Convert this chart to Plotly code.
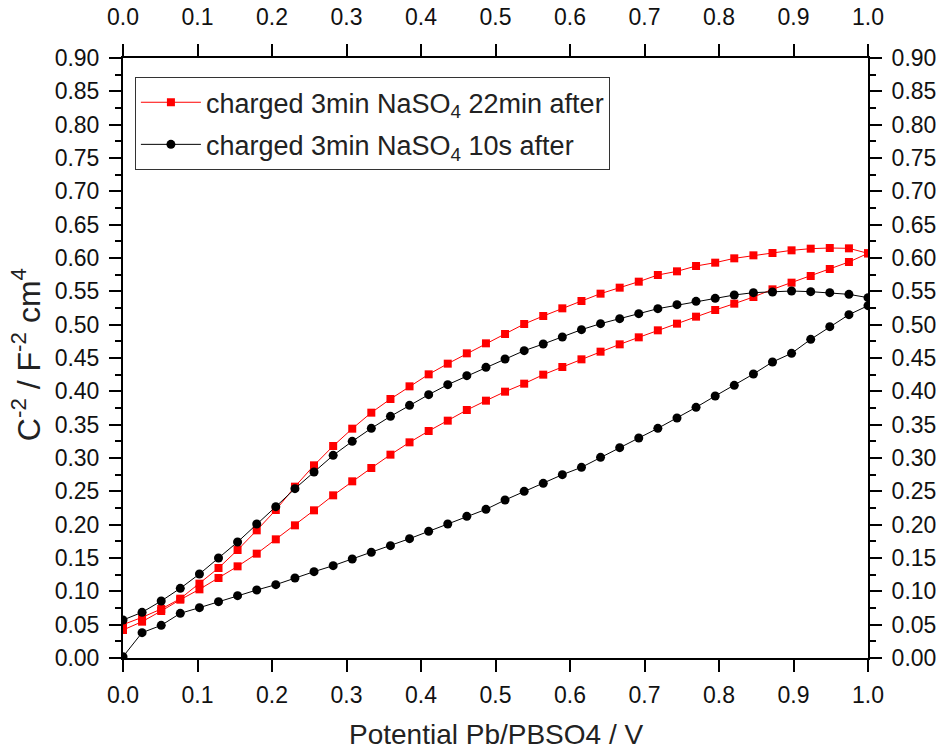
import plotly.graph_objects as go

# Potential sweep grid (V), 40 points per sweep direction
potential = [0.0, 0.0256, 0.0513, 0.0769, 0.1026, 0.1282, 0.1538, 0.1795, 0.2051, 0.2308,
             0.2564, 0.2821, 0.3077, 0.3333, 0.359, 0.3846, 0.4103, 0.4359, 0.4615, 0.4872,
             0.5128, 0.5385, 0.5641, 0.5897, 0.6154, 0.641, 0.6667, 0.6923, 0.7179, 0.7436,
             0.7692, 0.7949, 0.8205, 0.8462, 0.8718, 0.8974, 0.9231, 0.9487, 0.9744, 1.0]

# 22 min after charging: anodic (lower) and cathodic (upper) branches, C^-2 values
red_fwd = [0.042, 0.0545, 0.0705, 0.0875, 0.103, 0.120, 0.1375, 0.1565, 0.178, 0.199,
           0.2215, 0.244, 0.265, 0.285, 0.305, 0.3235, 0.3405, 0.356, 0.372, 0.386,
           0.3995, 0.4115, 0.425, 0.4365, 0.448, 0.4595, 0.4705, 0.481, 0.4915, 0.5015,
           0.512, 0.522, 0.5315, 0.5415, 0.553, 0.563, 0.573, 0.5835, 0.594, 0.607]
red_rev = [0.05, 0.061, 0.0735, 0.089, 0.1115, 0.135, 0.162, 0.1915, 0.222, 0.257,
           0.289, 0.318, 0.344, 0.368, 0.3885, 0.4075, 0.4255, 0.4415, 0.457, 0.472,
           0.486, 0.501, 0.513, 0.5245, 0.5355, 0.5465, 0.5555, 0.5645, 0.5745, 0.580,
           0.588, 0.593, 0.5995, 0.604, 0.6075, 0.6115, 0.614, 0.615, 0.6145, 0.607]

# 10 s after charging
black_fwd = [0.002, 0.038, 0.049, 0.067, 0.0755, 0.0845, 0.0935, 0.102, 0.110, 0.120,
             0.1295, 0.1385, 0.1485, 0.1585, 0.1685, 0.179, 0.190, 0.201, 0.2125, 0.223,
             0.237, 0.250, 0.262, 0.275, 0.286, 0.301, 0.3155, 0.330, 0.3445, 0.360,
             0.376, 0.393, 0.409, 0.426, 0.444, 0.457, 0.478, 0.497, 0.515, 0.5285]
black_rev = [0.057, 0.0685, 0.0855, 0.1045, 0.126, 0.150, 0.174, 0.201, 0.227, 0.254,
             0.279, 0.304, 0.325, 0.3445, 0.3625, 0.379, 0.395, 0.410, 0.4235, 0.436,
             0.4485, 0.461, 0.471, 0.4815, 0.4925, 0.5015, 0.509, 0.5165, 0.524, 0.530,
             0.535, 0.5395, 0.5445, 0.548, 0.549, 0.5505, 0.5495, 0.548, 0.5455, 0.5405]

x_tick_vals = [0.0, 0.1, 0.2, 0.3, 0.4, 0.5, 0.6, 0.7, 0.8, 0.9, 1.0]

FONT = "Liberation Sans, Arial, sans-serif"

loop_x = potential + potential[::-1]

fig = go.Figure()
fig.add_trace(go.Scatter(
    x=loop_x, y=red_fwd + red_rev[::-1], mode="lines+markers",
    name="charged 3min NaSO<sub>4</sub> 22min after",
    line=dict(color="#ff0000", width=1),
    marker=dict(symbol="square", size=8, color="#ff0000"),
    legendgroup="a",
))
fig.add_trace(go.Scatter(
    x=loop_x, y=black_fwd + black_rev[::-1], mode="lines+markers",
    name="charged 3min NaSO<sub>4</sub> 10s after",
    line=dict(color="#000000", width=1),
    marker=dict(symbol="circle", size=9, color="#000000"),
    legendgroup="b",
))
# empty trace so the mirrored top/right axes are drawn with labels
fig.add_trace(go.Scatter(x=[None], y=[None], xaxis="x2", yaxis="y2",
                         showlegend=False, hoverinfo="skip"))

axis_common = dict(
    showgrid=False, zeroline=False, showline=True, linecolor="black", linewidth=2,
    ticks="outside", ticklen=12, tickwidth=2, tickcolor="black", automargin=False,
    tickfont=dict(family=FONT, size=23, color="#111111"),
)
minor_ticks = dict(dtick=0.025, ticks="outside", ticklen=6, tickwidth=2, tickcolor="black")

fig.update_layout(
    width=943, height=751,
    margin=dict(l=123, r=75, t=58, b=93),
    paper_bgcolor="white", plot_bgcolor="white",
    font=dict(family=FONT, color="black"),
    xaxis=dict(range=[0, 1], tickvals=x_tick_vals, tickformat=".1f", ticklabelstandoff=3,
               **axis_common),
    yaxis=dict(range=[0, 0.9], dtick=0.05, tickformat=".2f", minor=minor_ticks,
               ticklabelstandoff=5, **axis_common),
    xaxis2=dict(range=[0, 1], tickvals=x_tick_vals, tickformat=".1f", side="top",
                overlaying="x", ticklabelstandoff=10, **axis_common),
    yaxis2=dict(range=[0, 0.9], dtick=0.05, tickformat=".2f", side="right", overlaying="y",
                minor=minor_ticks, ticklabelstandoff=5, **axis_common),
    legend=dict(x=0.016, y=0.968, xanchor="left", yanchor="top",
                bgcolor="white", bordercolor="#333333", borderwidth=1,
                font=dict(family=FONT, size=27, color="#222222"),
                itemwidth=60, traceorder="grouped", tracegroupgap=4),
    showlegend=True,
)

fig.add_annotation(text="Potential Pb/PBSO4 / V", xref="paper", yref="paper",
                   x=0.5, y=-0.127, xanchor="center", yanchor="middle", showarrow=False,
                   font=dict(family=FONT, size=28, color="#222222"))
fig.add_annotation(text="C<sup>-2</sup> / F<sup>-2</sup> cm<sup>4</sup>", xref="paper", yref="paper",
                   x=-0.13, y=0.505, xanchor="center", yanchor="middle", showarrow=False,
                   textangle=-90, font=dict(family=FONT, size=32, color="#222222"))

fig.write_html("out.html")
